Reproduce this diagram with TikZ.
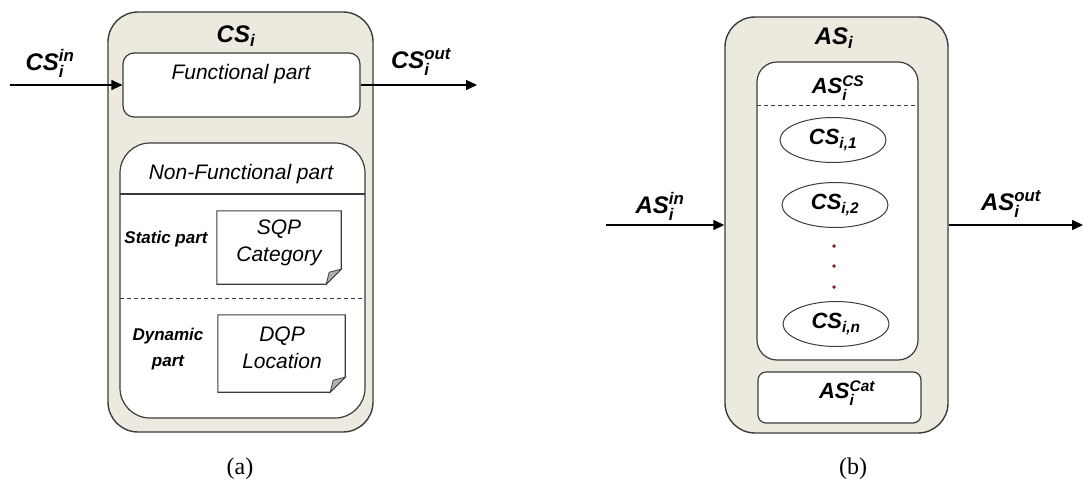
\documentclass[tikz,border=0pt]{standalone}
\usepackage{fontspec}
\usepackage{amsmath}
\setmainfont{Liberation Sans}
\newfontfamily\capfont{Liberation Serif}
\usetikzlibrary{shapes.geometric, arrows.meta}

\definecolor{shellbeige}{HTML}{ECE9DF}
\definecolor{edgegray}{HTML}{3C3C3C}
\definecolor{dotred}{HTML}{8B2020}

\newcommand{\bigbi}{\fontsize{24}{28}\selectfont\bfseries\itshape}
\newcommand{\midbi}{\fontsize{22}{26}\selectfont\bfseries\itshape}
\newcommand{\smallbi}{\fontsize{17}{26}\selectfont\bfseries\itshape}
\newcommand{\partit}{\fontsize{21}{27}\selectfont\itshape}

\tikzset{
    shell/.style = {draw = edgegray, line width = 1.4pt, fill = shellbeige, rounded corners = 30pt, inner sep = 0pt},
    part/.style = {draw = edgegray, line width = 1.2pt, fill = white, rounded corners = 11pt, inner sep = 0pt},
    flow/.style = {line width = 1.4pt, -{Triangle[length = 11pt, width = 10pt]}},
    cselem/.style = {ellipse, draw = edgegray, line width = 1pt, minimum width = 106pt, minimum height = 45pt, inner sep = 0pt, font = \midbi},
    notebox/.style = {inner sep = 0pt, align = center, font = \partit},
    sepline/.style = {line width = 1pt, edgegray, dashed, dash pattern = on 4pt off 3pt},
    ddot/.style = {circle, fill = dotred, inner sep = 1.4pt}
}

% note outline with a folded lower right corner
\newcommand{\foldnote}[1]{%
    \draw[line width = 1.1pt, edgegray] (#1.north west) -- (#1.north east) -- ([yshift = 15pt]#1.south east) -- ([xshift = -15pt]#1.south east) -- (#1.south west) -- cycle;
    \draw[line width = 0.8pt, edgegray, fill = gray!60] ([yshift = 15pt]#1.south east) .. controls ([xshift = -6pt, yshift = 13pt]#1.south east) .. ([xshift = -12pt, yshift = 12pt]#1.south east) .. controls ([xshift = -13pt, yshift = 6pt]#1.south east) .. ([xshift = -15pt]#1.south east) -- cycle;
}

\begin{document}
\begin{tikzpicture}[x = 1pt, y = -1pt]
    \useasboundingbox (0, 0) rectangle (1083, 496);

    % (a) the CS_i box
    \node[shell, minimum width = 265pt, minimum height = 420pt] (csbox) at (240.5, 222) {};
    \node[font = \bigbi] (cstitle) at (236, 36) {CS$_{\text{i}}$};
    \node[part, minimum width = 237pt, minimum height = 64pt] (func) at (241.5, 85) {};
    \node[font = \partit] (functxt) at (241, 74) {Functional part};
    \node[part, rounded corners = 30pt, minimum width = 245pt, minimum height = 275pt] (nfbox) at (242.5, 280.5) {};
    \node[font = \partit] (nftxt) at (241, 174) {Non-Functional part};
    \draw[line width = 1.1pt, edgegray] (120, 194) -- (365, 194);
    \draw[sepline] (120, 298) -- (365, 298);
    \node[font = \smallbi] (statictxt) at (166, 239) {Static part};
    \node[notebox, minimum width = 124pt, minimum height = 73pt] (sqp) at (279, 247.5) {};
    \node[notebox] (sqptxt) at (279, 243) {SQP\\Category};
    \foldnote{sqp}
    \node[font = \smallbi, align = center] (dyntxt) at (168, 349) {Dynamic\\part};
    \node[notebox, minimum width = 127pt, minimum height = 77pt] (dqp) at (281.5, 353.5) {};
    \node[notebox] (dqptxt) at (282, 348) {DQP\\Location};
    \foldnote{dqp}

    \coordinate (csin) at (10, 85);
    \coordinate (csout) at (477, 85);
    \draw[flow] (csin) -- (func.west);
    \draw[flow] (func.east) -- (csout);
    \node[font = \bigbi] (csinlbl) at (50, 63) {CS$^{\text{in}}_{\text{i}}$};
    \node[font = \bigbi] (csoutlbl) at (421, 62) {CS$^{\text{out}}_{\text{i}}$};

    % (b) the AS_i box
    \node[shell, minimum width = 223pt, minimum height = 416pt] (asbox) at (836.5, 225) {};
    \node[font = \bigbi] (astitle) at (834, 38) {AS$_{\text{i}}$};
    \node[part, rounded corners = 20pt, minimum width = 161pt, minimum height = 298pt] (ascs) at (837.5, 211) {};
    \node[font = \midbi] (ascstxt) at (838, 88) {AS$^{\text{CS}}_{\text{i}}$};
    \draw[sepline] (757, 105) -- (918, 105);
    \node[cselem] (cs1) at (833, 140) {CS$_{\text{i,1}}$};
    \node[cselem] (cs2) at (835, 205) {CS$_{\text{i,2}}$};
    \node[ddot] (dot1) at (834, 246) {};
    \node[ddot] (dot2) at (834, 266) {};
    \node[ddot] (dot3) at (834, 287) {};
    \node[cselem] (csn) at (836, 324) {CS$_{\text{i,n}}$};
    \node[part, rounded corners = 8pt, minimum width = 163pt, minimum height = 51pt] (ascat) at (839.5, 397.5) {};
    \node[font = \midbi] (ascattxt) at (847, 393) {AS$^{\text{Cat}}_{\text{i}}$};

    \coordinate (asin) at (606, 225);
    \coordinate (asout) at (1083, 225);
    \draw[flow] (asin) -- (asbox.west);
    \draw[flow] (asbox.east) -- (asout);
    \node[font = \bigbi] (asinlbl) at (660, 206) {AS$^{\text{in}}_{\text{i}}$};
    \node[font = \bigbi] (asoutlbl) at (1011, 204) {AS$^{\text{out}}_{\text{i}}$};

    % captions
    \node[font = \capfont\fontsize{24}{28}\selectfont] (capa) at (240, 469) {(a)};
    \node[font = \capfont\fontsize{24}{28}\selectfont] (capb) at (853, 469) {(b)};
\end{tikzpicture}
\end{document}
